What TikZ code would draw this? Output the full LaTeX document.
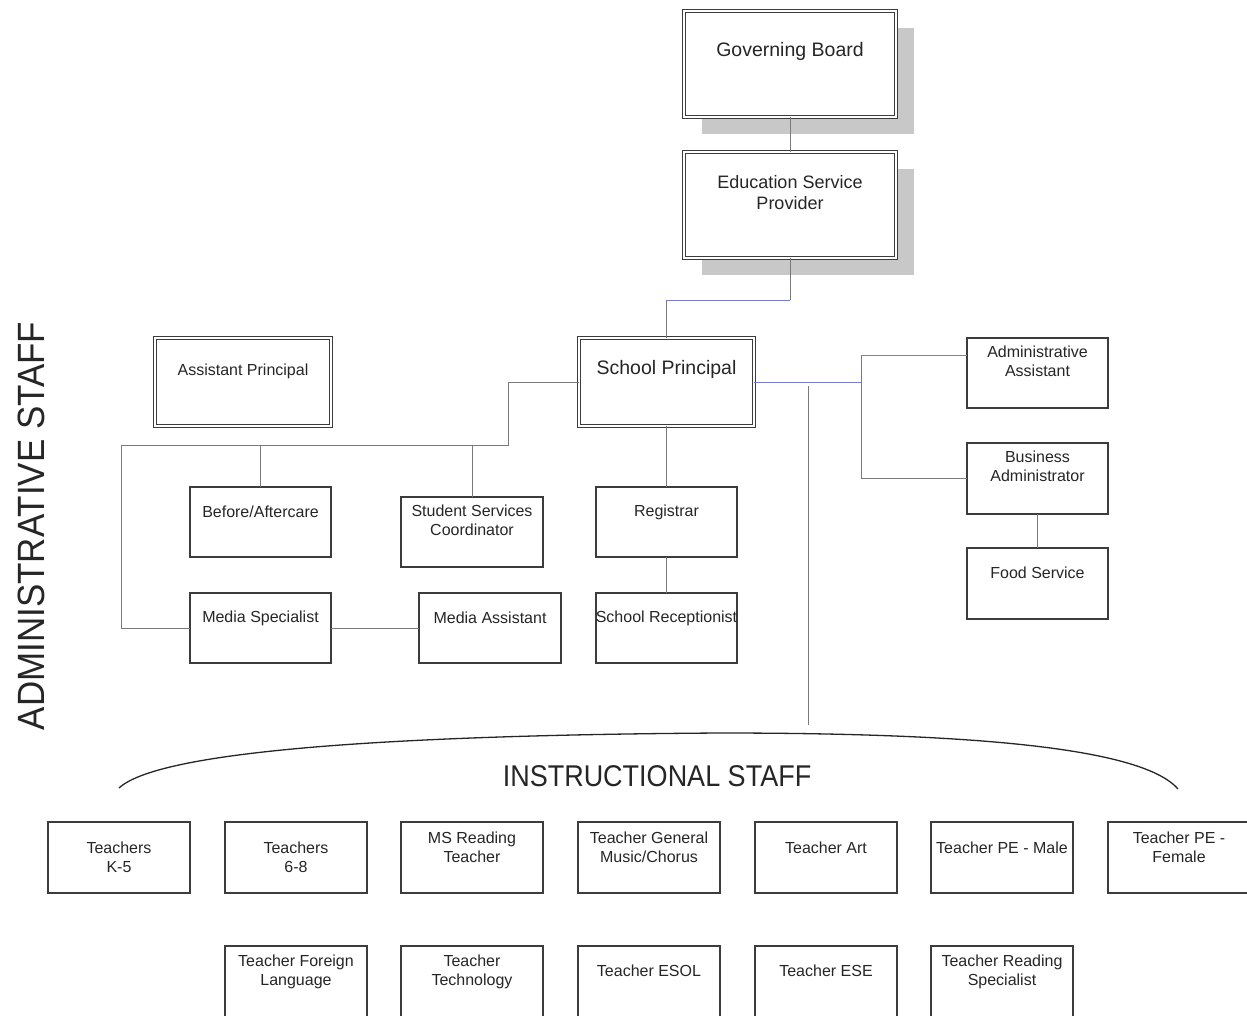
\documentclass[tikz,border=0pt]{standalone}
\usepackage{fontspec}
\setmainfont{Liberation Sans}
\usetikzlibrary{shadows}
\definecolor{bordc}{HTML}{3C3C3C}
\definecolor{linec}{HTML}{7A7A7A}
\definecolor{bluec}{HTML}{7C7CD0}
\definecolor{shadc}{HTML}{C8C8C8}
\definecolor{txtc}{HTML}{262626}
\begin{document}
\begin{tikzpicture}[x=1pt,y=-1pt,
  sbox/.style={draw=bordc, line width=1.2pt, fill=white, anchor=north west,
    minimum width=142pt, minimum height=70pt, inner sep=0pt, outer sep=0pt},
  dbox/.style={sbox, double=white, double distance=2pt, line width=1pt},
  shad/.style={drop shadow={shadow xshift=18pt, shadow yshift=-17pt, fill=shadc, opacity=1}},
  lbl/.style={anchor=center, yshift=-25pt, align=center, text=txtc,
    font=\fontsize{16}{19}\selectfont, inner sep=0pt},
  conn/.style={draw=linec, line width=1pt},
  bconn/.style={draw=bluec, line width=1pt},
  title/.style={text=txtc, inner sep=0pt}
]
\useasboundingbox (0,0) rectangle (1247,1015);
\fill[white] (0,0) rectangle (1247,1015);
\clip (0,0) rectangle (1247,1015);

% top boxes
\node[dbox, shad, minimum width=212pt, minimum height=106pt,
  label={[lbl, yshift=-15pt, font=\fontsize{19.5}{22}\selectfont]north:Governing Board}] (gb) at (684,11) {};
\node[dbox, shad, minimum width=212pt, minimum height=106pt,
  label={[lbl, yshift=-15.5pt, font=\fontsize{18}{21}\selectfont]north:{Education Service\\Provider}}] (esp) at (684,152) {};

% principals
\node[dbox, minimum width=175pt, minimum height=88pt,
  label={[lbl, yshift=-6pt, font=\fontsize{19.5}{22}\selectfont]north:School Principal}] (sp) at (579,338) {};
\node[dbox, minimum width=176pt, minimum height=88pt,
  label={[lbl, yshift=-8pt]north:Assistant Principal}] (ap) at (155,338) {};

% admin staff
\node[sbox, minimum width=141pt, label={[lbl]north:Before/Aftercare}] (bef) at (190,487) {};
\node[sbox, label={[lbl, yshift=1.5pt]north:{Student Services\\Coordinator}}] (ssc) at (401,497) {};
\node[sbox, minimum width=141pt, label={[lbl]north:Registrar}] (reg) at (596,487) {};
\node[sbox, minimum width=141pt, label={[lbl]north:Media Specialist}] (ms) at (190,593) {};
\node[sbox, label={[lbl]north:Media Assistant}] (ma) at (419,593) {};
\node[sbox, minimum width=141pt, label={[lbl]north:School Receptionist}] (rec) at (596,593) {};
\node[sbox, minimum width=141pt, label={[lbl, yshift=1.5pt]north:{Administrative\\Assistant}}] (aa) at (967,338) {};
\node[sbox, minimum width=141pt, minimum height=71pt, label={[lbl, yshift=1.5pt]north:{Business\\Administrator}}] (ba) at (967,443) {};
\node[sbox, minimum width=141pt, minimum height=71pt, label={[lbl]north:Food Service}] (fs) at (967,548) {};

% instructional staff row 1
\node[sbox, minimum height=71pt, label={[lbl, yshift=-10pt]north:{Teachers\\K-5}}] (t1) at (48,822) {};
\node[sbox, minimum height=71pt, label={[lbl, yshift=-10pt]north:{Teachers\\6-8}}] (t2) at (225,822) {};
\node[sbox, minimum height=71pt, label={[lbl, yshift=-0.5pt]north:{MS Reading\\Teacher}}] (t3) at (401,822) {};
\node[sbox, minimum height=71pt, label={[lbl, yshift=-0.5pt]north:{Teacher General\\Music/Chorus}}] (t4) at (578,822) {};
\node[sbox, minimum height=71pt, label={[lbl, yshift=-1pt]north:Teacher Art}] (t5) at (755,822) {};
\node[sbox, minimum height=71pt, label={[lbl, yshift=-1pt]north:Teacher PE - Male}] (t6) at (931,822) {};
\node[sbox, minimum height=71pt, label={[lbl, yshift=-0.5pt]north:{Teacher PE -\\Female}}] (t7) at (1108,822) {};
% row 2
\node[sbox, minimum height=71pt, label={[lbl, yshift=-0.5pt]north:{Teacher Foreign\\Language}}] (u1) at (225,946) {};
\node[sbox, minimum height=71pt, label={[lbl, yshift=-0.5pt]north:{Teacher\\Technology}}] (u2) at (401,946) {};
\node[sbox, minimum height=71pt, label={[lbl]north:Teacher ESOL}] (u3) at (578,946) {};
\node[sbox, minimum height=71pt, label={[lbl]north:Teacher ESE}] (u4) at (755,946) {};
\node[sbox, minimum height=71pt, label={[lbl, yshift=-0.5pt]north:{Teacher Reading\\Specialist}}] (u5) at (931,946) {};

% titles
\node[title, font=\fontsize{38}{40}\selectfont, rotate=90, xscale=0.92] (adm) at (31,526) {ADMINISTRATIVE STAFF};
\node[title, font=\fontsize{30}{32}\selectfont, xscale=0.9] (ins) at (657,776) {INSTRUCTIONAL STAFF};

% connector junctions
\coordinate (j1) at (666.5,300);
\coordinate (j2) at (508,382);
\coordinate (j3) at (508,445);
\coordinate (j4) at (121,445);
\coordinate (j5) at (121,628);
\coordinate (k1) at (861,382);
\coordinate (k2) at (861,355);
\coordinate (k3) at (861,478.5);
\coordinate (iv1) at (808,386);
\coordinate (iv2) at (808,725);
\coordinate (arcL) at (119,788);
\coordinate (arcM) at (720,733);
\coordinate (arcR) at (1178,789);

% connectors
\draw[conn] (gb.south) -- (esp.north);
\draw[conn] (esp.south) -- (esp.south |- j1);
\draw[bconn] (esp.south |- j1) -- (j1);
\draw[conn] (j1) -- (sp.north);
\draw[conn] (sp.west) -- (j2) -- (j3) -- (j4) -- (j5) -- (ms.west);
\draw[conn] (bef.north |- j3) -- (bef.north);
\draw[conn] (ssc.north |- j3) -- (ssc.north);
\draw[conn] (ms.east) -- (ma.west);
\draw[conn] (sp.south) -- (reg.north);
\draw[conn] (reg.south) -- (rec.north);
\draw[bconn] (sp.east) -- (k1);
\draw[conn] (k2) -- (k3);
\draw[bconn] (k2) -- (k2 -| aa.west);
\draw[conn] (k3) -- (ba.west);
\draw[conn] (ba.south) -- (fs.north);
\draw[conn] (iv1) -- (iv2);

% brace arc
\draw[draw=black!85, line width=1.3pt] (arcL) .. controls (160,750) and (400,735) .. (arcM)
  .. controls (950,733) and (1140,745) .. (arcR);
\end{tikzpicture}
\end{document}
